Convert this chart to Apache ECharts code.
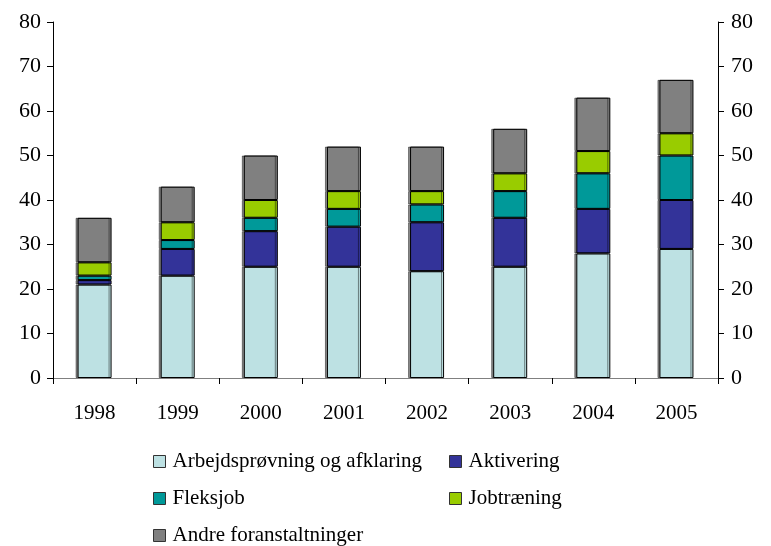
<!DOCTYPE html>
<html><head><meta charset="utf-8">
<script src="https://cdn.jsdelivr.net/npm/echarts@6/dist/echarts.min.js"></script>
<style>html,body{margin:0;padding:0;background:#fff}#c{width:771px;height:546px}</style>
</head><body><div id="c"></div>
<script>
const categories = ['1998','1999','2000','2001','2002','2003','2004','2005'];
const seriesNames = ['Arbejdsprøvning og afklaring','Aktivering','Fleksjob','Jobtræning','Andre foranstaltninger'];
const arbejdsproevning = [21,23,25,25,24,25,28,29];
const aktivering = [1,6,8,9,11,11,10,11];
const fleksjob = [1,2,3,4,4,6,8,10];
const jobtraening = [3,4,4,4,3,4,5,5];
const andre = [10,8,10,10,10,10,12,12];
const yTicks = [0,10,20,30,40,50,60,70,80];

const colors = ['#BDE1E3','#333399','#009999','#99CC00','#808080'];
const values = [arbejdsproevning, aktivering, fleksjob, jobtraening, andre];
const font = '"Liberation Serif", "DejaVu Serif", serif';

const series = seriesNames.map((n,i)=>({
  name:n, type:'bar', stack:'s', barWidth:34,
  data: values[i],
  itemStyle:{color:colors[i], borderColor:'#000', borderWidth:1,
    shadowColor:'rgba(0,0,0,0.45)', shadowOffsetX:-2, shadowOffsetY:0, shadowBlur:0}
}));

const legendPos = [[148,446],[444,446],[148,483],[444,483],[148,520]];
const legends = seriesNames.map((n,i)=>({
  data:[n], left:legendPos[i][0], top:legendPos[i][1], itemWidth:12, itemHeight:12, itemGap:6,
  icon:'rect', selectedMode:false,
  itemStyle:{borderColor:'#333', borderWidth:1},
  textStyle:{fontFamily:font, fontSize:21, color:'#000', padding:[0,0,0,2]}
}));

const yAxisBase = (pos, margin)=>({
  type:'value', position:pos, min:0, max:80, interval:10,
  axisLine:{show:true, lineStyle:{color:'#000', width:1}},
  axisTick:{show:true, length:6, lineStyle:{color:'#000'}},
  splitLine:{show:false},
  axisLabel:{fontFamily:font, fontSize:22, color:'#000', margin:margin,
    formatter:(v)=> yTicks.includes(v) ? String(v) : ''}
});

const chart = echarts.init(document.getElementById('c'), null, {renderer:'canvas'});
chart.setOption({
  animation:false,
  backgroundColor:'#fff',
  grid:{left:53, right:53, top:22, bottom:168, containLabel:false},
  legend: legends,
  xAxis:{type:'category', data:categories,
    axisLine:{lineStyle:{color:'#808080', width:1}},
    axisTick:{show:true, length:6, inside:false, lineStyle:{color:'#000'}},
    axisLabel:{fontFamily:font, fontSize:21, color:'#000', margin:25}},
  yAxis:[yAxisBase('left', 12), yAxisBase('right', 13)],
  series: series
});
</script></body></html>
